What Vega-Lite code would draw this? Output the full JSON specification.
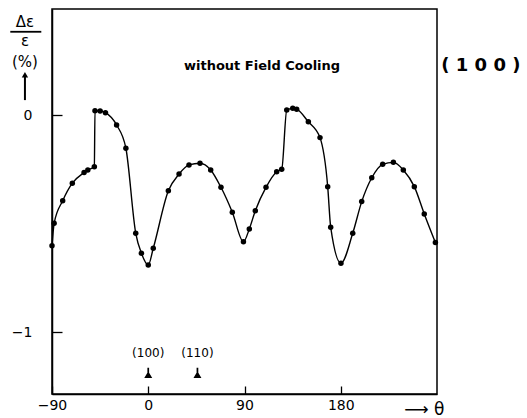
{
  "$schema": "https://vega.github.io/schema/vega-lite/v6.json",
  "width": 385,
  "height": 385,
  "autosize": {"type": "none"},
  "padding": {"left": 52, "top": 9, "right": 90, "bottom": 24},
  "background": "white",
  "config": {
    "view": {"stroke": "black", "strokeWidth": 1.5},
    "font": "DejaVu Sans",
    "axis": {
      "grid": false,
      "domainColor": "black",
      "domainWidth": 1.5,
      "tickColor": "black",
      "tickWidth": 1.3,
      "labelColor": "black",
      "labelFont": "DejaVu Sans",
      "labelFontSize": 14,
      "labelFlush": false,
      "titleColor": "black",
      "titleFont": "DejaVu Sans",
      "titleFontWeight": "normal"
    }
  },
  "datasets": {
    "curve": [
      {"theta": -90, "dE": -0.601},
      {"theta": -88, "dE": -0.498},
      {"theta": -80, "dE": -0.394},
      {"theta": -71, "dE": -0.313},
      {"theta": -60, "dE": -0.264},
      {"theta": -56.5, "dE": -0.252},
      {"theta": -50.4, "dE": -0.237},
      {"theta": -49.8, "dE": 0.021},
      {"theta": -45, "dE": 0.02},
      {"theta": -40, "dE": 0.012},
      {"theta": -29.6, "dE": -0.045},
      {"theta": -20.9, "dE": -0.152},
      {"theta": -11.7, "dE": -0.544},
      {"theta": -6.4, "dE": -0.636},
      {"theta": 0, "dE": -0.69},
      {"theta": 4.7, "dE": -0.613},
      {"theta": 18.8, "dE": -0.348},
      {"theta": 28.8, "dE": -0.271},
      {"theta": 38.1, "dE": -0.229},
      {"theta": 48.4, "dE": -0.221},
      {"theta": 58.4, "dE": -0.252},
      {"theta": 68, "dE": -0.332},
      {"theta": 78.6, "dE": -0.447},
      {"theta": 89, "dE": -0.583},
      {"theta": 94.5, "dE": -0.524},
      {"theta": 100.1, "dE": -0.44},
      {"theta": 110.1, "dE": -0.332},
      {"theta": 120.1, "dE": -0.26},
      {"theta": 124.8, "dE": -0.249},
      {"theta": 129.5, "dE": 0.024},
      {"theta": 135.1, "dE": 0.032},
      {"theta": 138.8, "dE": 0.028},
      {"theta": 149.7, "dE": -0.03},
      {"theta": 160.6, "dE": -0.103},
      {"theta": 167.8, "dE": -0.329},
      {"theta": 170.6, "dE": -0.516},
      {"theta": 180.2, "dE": -0.682},
      {"theta": 191.2, "dE": -0.544},
      {"theta": 199.6, "dE": -0.398},
      {"theta": 209, "dE": -0.288},
      {"theta": 219.2, "dE": -0.226},
      {"theta": 229.2, "dE": -0.217},
      {"theta": 238.5, "dE": -0.252},
      {"theta": 248.8, "dE": -0.329},
      {"theta": 258.1, "dE": -0.455},
      {"theta": 268.5, "dE": -0.587}
    ],
    "subtitle": [{"theta": 106.4, "dE": 0.227, "label": "without Field Cooling"}],
    "plane": [{"theta": 311, "dE": 0.227, "label": "( 1 0 0 )"}],
    "dirs": [
      {"theta": 0, "dE": -1.096, "label": "(100)"},
      {"theta": 46, "dE": -1.096, "label": "(110)"}
    ],
    "pins": [
      {"theta": 0, "dE": -1.19},
      {"theta": 46, "dE": -1.19}
    ],
    "ytitle": [
      {"theta": -115.3, "dE": 0.43, "label": "Δε"},
      {"theta": -115.3, "dE": 0.342, "label": "ε"},
      {"theta": -115.3, "dE": 0.2443, "label": "(%)"}
    ],
    "ybar": [{"theta": -129, "theta2": -100, "dE": 0.385}],
    "yarrow": [{"theta": -115.3, "dE": 0.07, "dE2": 0.185}],
    "yhead": [{"theta": -115.3, "dE": 0.187}]
  },
  "layer": [
    {
      "data": {"name": "curve"},
      "mark": {"type": "line", "interpolate": "monotone", "color": "black", "strokeWidth": 1.4},
      "encoding": {
        "x": {
          "field": "theta", "type": "quantitative",
          "scale": {"domain": [-90, 270], "nice": false, "zero": false},
          "axis": {
            "values": [-90, 0, 90, 180],
            "format": "d",
            "tickSize": -8,
            "labelPadding": 12,
            "title": "⟶ θ",
            "titleFontSize": 17,
            "titleAlign": "right",
            "titleBaseline": "middle",
            "titleX": 392,
            "titleY": 15
          }
        },
        "y": {
          "field": "dE", "type": "quantitative",
          "scale": {"domain": [-1.285, 0.49], "nice": false, "zero": false},
          "axis": {
            "values": [0, -1],
            "format": "d",
            "tickSize": -10,
            "labelPadding": 30,
            "title": null
          }
        }
      }
    },
    {
      "data": {"name": "curve"},
      "mark": {"type": "point", "filled": true, "color": "black", "size": 30, "opacity": 1},
      "encoding": {
        "x": {"field": "theta", "type": "quantitative"},
        "y": {"field": "dE", "type": "quantitative"}
      }
    },
    {
      "data": {"name": "subtitle"},
      "mark": {"type": "text", "fontSize": 13, "fontWeight": "bold", "color": "black"},
      "encoding": {
        "x": {"field": "theta", "type": "quantitative"},
        "y": {"field": "dE", "type": "quantitative"},
        "text": {"field": "label"}
      }
    },
    {
      "data": {"name": "plane"},
      "mark": {"type": "text", "fontSize": 18, "fontWeight": "bold", "color": "black"},
      "encoding": {
        "x": {"field": "theta", "type": "quantitative"},
        "y": {"field": "dE", "type": "quantitative"},
        "text": {"field": "label"}
      }
    },
    {
      "data": {"name": "dirs"},
      "mark": {"type": "text", "fontSize": 12, "color": "black"},
      "encoding": {
        "x": {"field": "theta", "type": "quantitative"},
        "y": {"field": "dE", "type": "quantitative"},
        "text": {"field": "label"}
      }
    },
    {
      "data": {"name": "pins"},
      "mark": {"type": "point", "filled": true, "color": "black", "opacity": 1, "size": 130,
               "shape": "M-0.15,-1L0.15,-1L0.15,-0.1L0.7,0.8L-0.7,0.8L-0.15,-0.1Z"},
      "encoding": {
        "x": {"field": "theta", "type": "quantitative"},
        "y": {"field": "dE", "type": "quantitative"}
      }
    },
    {
      "data": {"name": "ytitle"},
      "mark": {"type": "text", "fontSize": 15, "color": "black"},
      "encoding": {
        "x": {"field": "theta", "type": "quantitative"},
        "y": {"field": "dE", "type": "quantitative"},
        "text": {"field": "label"}
      }
    },
    {
      "data": {"name": "ybar"},
      "mark": {"type": "rule", "color": "black", "strokeWidth": 1.8},
      "encoding": {
        "x": {"field": "theta", "type": "quantitative"},
        "x2": {"field": "theta2"},
        "y": {"field": "dE", "type": "quantitative"}
      }
    },
    {
      "data": {"name": "yarrow"},
      "mark": {"type": "rule", "color": "black", "strokeWidth": 2},
      "encoding": {
        "x": {"field": "theta", "type": "quantitative"},
        "y": {"field": "dE", "type": "quantitative"},
        "y2": {"field": "dE2"}
      }
    },
    {
      "data": {"name": "yhead"},
      "mark": {"type": "point", "shape": "triangle-up", "filled": true, "color": "black", "opacity": 1, "size": 40},
      "encoding": {
        "x": {"field": "theta", "type": "quantitative"},
        "y": {"field": "dE", "type": "quantitative"}
      }
    }
  ]
}
